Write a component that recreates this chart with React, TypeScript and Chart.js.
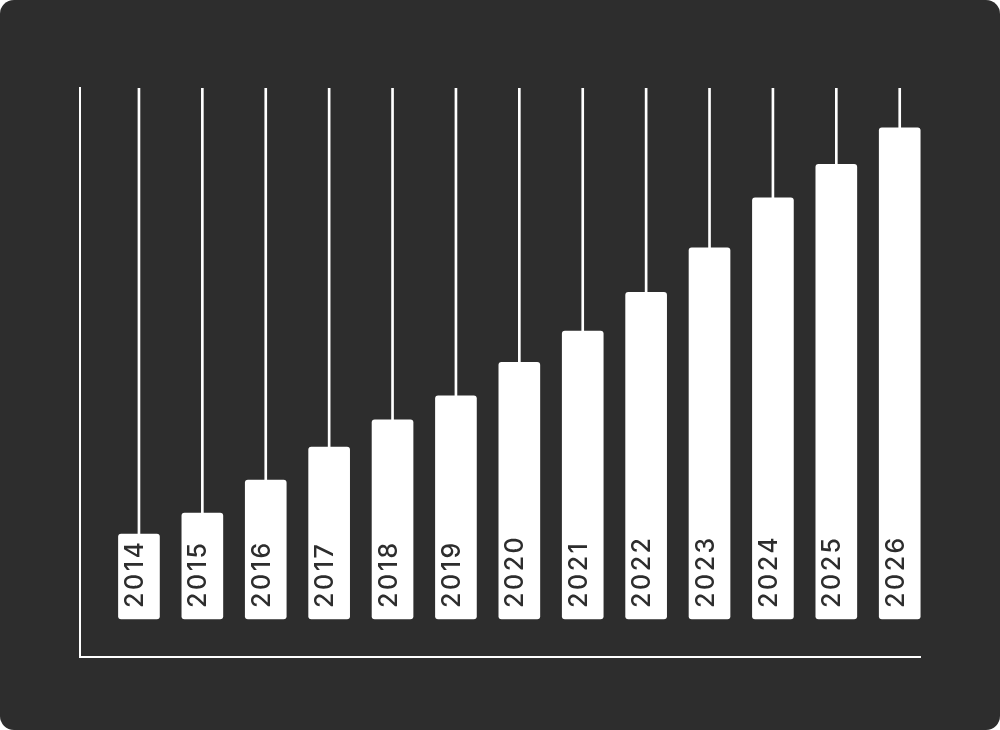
import { useEffect, useRef } from "react";
import { Chart, registerables, Plugin } from "chart.js";

Chart.register(...registerables);

const years = ["2014", "2015", "2016", "2017", "2018", "2019", "2020", "2021", "2022", "2023", "2024", "2025", "2026"];
const barTops = [21.6, 25.3, 31.1, 36.9, 41.7, 45.9, 51.8, 57.3, 64.1, 71.9, 80.7, 86.6, 93.0];
const barBase = 6.7;
const axisMax = 100;

const BG = "#2d2d2d";

// year labels written vertically inside each bar
const yearLabels: Plugin<"bar"> = {
  id: "yearLabels",
  afterDatasetsDraw(chart) {
    const ctx = chart.ctx as any;
    const meta = chart.getDatasetMeta(0);
    ctx.save();
    ctx.fillStyle = BG;
    ctx.font = "500 25px Inter";
    ctx.letterSpacing = "2.5px";
    ctx.textAlign = "left";
    ctx.textBaseline = "alphabetic";
    meta.data.forEach((bar: any, i) => {
      const { x, base } = bar.getProps(["x", "base"], true);
      ctx.save();
      ctx.translate(x, base - 11);
      ctx.rotate(-Math.PI / 2);
      ctx.fillText(years[i], 0, 4);
      ctx.restore();
    });
    ctx.restore();
  },
};

export default function App() {
  const chartRef = useRef<HTMLCanvasElement>(null);
  const chartInstance = useRef<Chart | null>(null);

  useEffect(() => {
    document.body.style.margin = "0";
    if (!chartRef.current) return;
    if (chartInstance.current) chartInstance.current.destroy();

    const ctx = chartRef.current.getContext("2d");
    if (!ctx) return;

    chartInstance.current = new Chart(ctx, {
      type: "bar",
      data: {
        datasets: [
          {
            label: "value",
            data: barTops.map((v, i) => ({ x: i, y: [barBase, v] })) as any,
            backgroundColor: "#ffffff",
            borderRadius: 3,
            borderSkipped: false,
            barThickness: 41,
            grouped: false,
            clip: false,
            order: 1,
          },
          {
            label: "stem",
            data: barTops.map((v, i) => ({ x: i, y: [v, axisMax] })) as any,
            backgroundColor: "#ffffff",
            barThickness: 2,
            grouped: false,
            order: 2,
          },
        ],
      },
      options: {
        animation: false,
        responsive: true,
        maintainAspectRatio: false,
        layout: { padding: { left: 72, top: 88, right: 80, bottom: 65 } },
        plugins: {
          legend: { display: false },
          tooltip: { enabled: false },
        },
        scales: {
          x: {
            type: "linear",
            offset: false,
            min: -0.93,
            max: 12.32,
            grid: { display: false },
            ticks: { display: false },
            border: { color: "#ffffff", width: 2 },
          },
          y: {
            min: 0,
            max: axisMax,
            grid: { display: false },
            ticks: { display: false },
            border: { color: "#ffffff", width: 2 },
          },
        },
      },
      plugins: [yearLabels],
    });

    return () => {
      if (chartInstance.current) {
        chartInstance.current.destroy();
        chartInstance.current = null;
      }
    };
  }, []);

  return (
    <div style={{ width: 1000, height: 730, background: BG, borderRadius: 14, position: "relative" }}>
      <canvas ref={chartRef}></canvas>
    </div>
  );
}
